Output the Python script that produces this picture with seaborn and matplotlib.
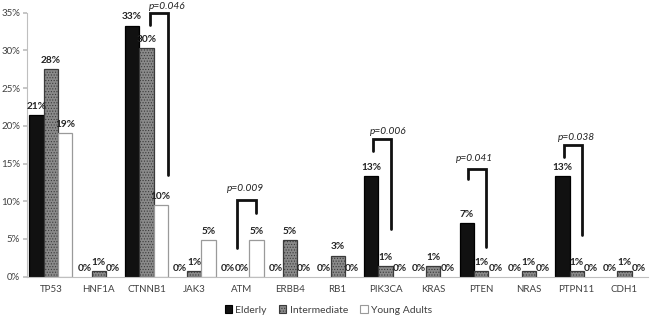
import matplotlib
matplotlib.use("Agg")
import matplotlib.pyplot as plt
import seaborn as sns
import pandas as pd
import numpy as np
from matplotlib.patches import Patch

genes = ["TP53", "HNF1A", "CTNNB1", "JAK3", "ATM", "ERBB4", "RB1", "PIK3CA",
         "KRAS", "PTEN", "NRAS", "PTPN11", "CDH1"]
groups = ["Elderly", "Intermediate", "Young Adults"]
elderly = [21.4, 0, 33.3, 0, 0, 0, 0, 13.3, 0, 7.1, 0, 13.3, 0]
intermediate = [27.5, 0.7, 30.3, 0.7, 0, 4.9, 2.8, 1.4, 1.4, 0.7, 0.7, 0.7, 0.7]
young = [19.0, 0, 9.5, 4.8, 4.8, 0, 0, 0, 0, 0, 0, 0, 0]

# p-value brackets
p_genes = ["CTNNB1", "ATM", "PIK3CA", "PTEN", "PTPN11"]
p_labels = ["p=0.046", "p=0.009", "p=0.006", "p=0.041", "p=0.038"]
br_left = [0.07, -0.10, -0.255, -0.27, -0.26]
br_right = [0.45, 0.285, 0.115, 0.10, 0.12]
br_top = [34.9, 10.2, 18.25, 14.25, 17.4]
br_lbot = [33.4, 3.85, 16.6, 13.0, 15.85]
br_rbot = [13.5, 8.4, 6.3, 4.0, 5.55]
lab_dx = [0.43, 0.075, 0.06, -0.13, 0.0]
lab_y = [35.85, 11.65, 19.2, 15.7, 18.45]

df = pd.DataFrame({
    "gene": genes * 3,
    "group": [g for g in groups for _ in genes],
    "value": elderly + intermediate + young,
})

sns.set_theme(style="white")
plt.rcParams["font.family"] = ["Lato", "DejaVu Sans"]
plt.rcParams["hatch.color"] = "#505050"
plt.rcParams["hatch.linewidth"] = 0.5

fig = plt.figure(figsize=(6.5, 3.19), dpi=100)
ax = fig.add_axes([0.0415, 0.1326, 0.956, 0.8276])

pal = {"Elderly": "#111111", "Intermediate": "#8a8a8a", "Young Adults": "#ffffff"}
sns.barplot(data=df, x="gene", y="value", hue="group", order=genes, hue_order=groups,
            palette=pal, width=0.9, ax=ax, legend=False, saturation=1)

edges = ["#000000", "#3a3a3a", "#9a9a9a"]
for ci, cont in enumerate(ax.containers):
    for p in cont.patches:
        p.set_edgecolor(edges[ci])
        p.set_linewidth(0.9 if p.get_height() > 0 else 0)
        if ci == 1:
            p.set_hatch("......")

# value labels
for ci, cont in enumerate(ax.containers):
    for p in cont.patches:
        h = p.get_height()
        ax.annotate(f"{h:.0f}%", (p.get_x() + p.get_width() / 2, h),
                    xytext=(0, 3), textcoords="offset points", ha="center", va="bottom",
                    fontsize=7.3, fontweight="bold", color="#222222", annotation_clip=False)

# brackets
for g, lab, l, r, t, lb, rb, dx, ly in zip(p_genes, p_labels, br_left, br_right, br_top,
                                            br_lbot, br_rbot, lab_dx, lab_y):
    i = genes.index(g)
    ax.plot([i + l, i + l, i + r, i + r], [lb, t, t, rb], color="#111111", lw=2.0,
            solid_joinstyle="miter", clip_on=False)
    ax.text(i + dx, ly, lab, ha="center", va="center", fontsize=7.3,
            style="italic", color="#222222", clip_on=False)

ax.set_ylim(0, 35)
ax.set_xlim(-0.5, len(genes) - 0.5)
ax.set_yticks(np.arange(0, 36, 5))
ax.set_yticklabels([f"{v}%" for v in range(0, 36, 5)])
ax.set_xlabel("")
ax.set_ylabel("")
ax.set_xticks(np.arange(len(genes)))
ax.set_xticklabels(genes)
ax.set_xticks(np.arange(len(genes) + 1) - 0.5, minor=True)
ax.tick_params(axis="x", which="major", length=0, labelsize=7, labelcolor="#404040", pad=6)
ax.tick_params(axis="x", which="minor", length=3, color="#bfbfbf", width=0.8)
ax.tick_params(axis="y", length=3, color="#bfbfbf", labelsize=7, labelcolor="#404040", pad=2,
               left=True)
for s in ["top", "right"]:
    ax.spines[s].set_visible(False)
for s in ["left", "bottom"]:
    ax.spines[s].set_color("#bfbfbf")
    ax.spines[s].set_linewidth(0.8)

handles = [Patch(facecolor=pal[g], edgecolor=edges[k], hatch="......" if k == 1 else None,
                 linewidth=0.8) for k, g in enumerate(groups)]
fig.legend(handles, groups, loc="center", bbox_to_anchor=(0.505, 0.028), ncol=3,
           frameon=False, fontsize=7.5, handlelength=0.7, handleheight=0.7,
           handletextpad=0.3, columnspacing=1.2, labelcolor="#404040")

fig.savefig("out.png", dpi=100)
